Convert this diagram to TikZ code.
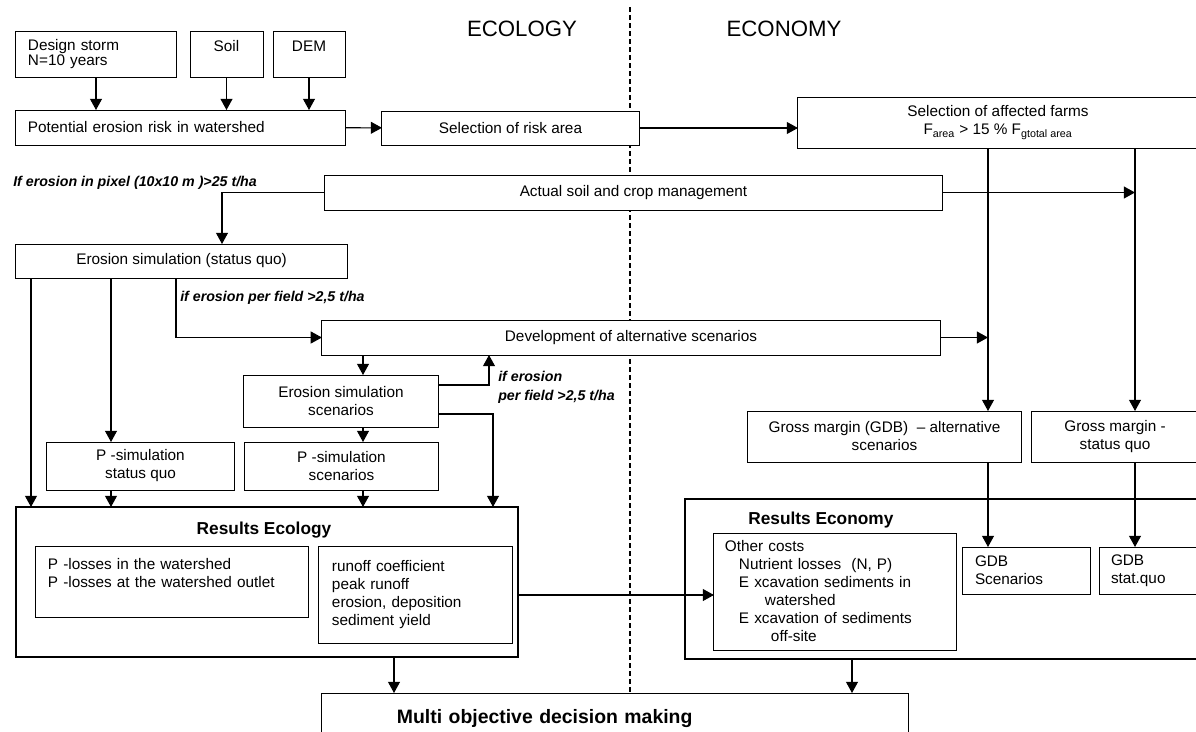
\documentclass[tikz,border=0pt]{standalone}
\usepackage{fontspec}
\setmainfont{Liberation Sans}
\usetikzlibrary{arrows.meta}

\begin{document}
\begin{tikzpicture}[x=0.025cm, y=-0.025cm,
        box/.style={draw, fill=white, line width=0.7pt, inner sep=0pt, outer sep=0pt, align=center, font=\fontsize{10.9}{12.8}\selectfont},
        lbox/.style={box, align=left},
        inbox/.style={box, minimum height=1.15cm, font=\fontsize{10.9}{11.2}\selectfont},
        resbox/.style={draw, line width=2pt, inner sep=0pt, outer sep=0pt},
        cond/.style={anchor=west, align=left, inner sep=0pt, font=\fontsize{10.1}{13.2}\selectfont\bfseries\itshape},
        title/.style={inner sep=0pt, font=\fontsize{12.3}{14}\selectfont\bfseries},
        side/.style={inner sep=0pt, font=\fontsize{15.8}{18}\selectfont},
        arr/.style={-{Triangle[length=0.28cm, width=0.3cm]}, line width=0.75pt}]

    % page = the scheme, boxes at the right border are cut
    \useasboundingbox (0,0) rectangle (1196,731);
    \clip (0,0) rectangle (1196,731);

    % columns and rows for the connectors
    \coordinate (xa) at (31,0);
    \coordinate (xb) at (111,0);
    \coordinate (xc) at (176,0);
    \coordinate (xd) at (222,0);
    \coordinate (xe) at (363,0);
    \coordinate (xf) at (394,0);
    \coordinate (xg) at (489,0);
    \coordinate (xh) at (493,0);
    \coordinate (xi) at (852,0);
    \coordinate (xj) at (988,0);
    \coordinate (xk) at (1135,0);
    \coordinate (ya) at (0,385);
    \coordinate (yb) at (0,414);
    \coordinate (yc) at (0,595);

    % dividing line ecology / economy
    \coordinate (divtop) at (630,7);
    \coordinate (divbot) at (630,693);
    \draw[dashed, dash pattern=on 0.125cm off 0.075cm, line width=0.9pt] (divtop) -- (divbot);

    \node[side] (ecol) at (522,29) {ECOLOGY};
    \node[side] (econ) at (784,29) {ECONOMY};

    % input data
    \node[inbox, align=left, text width=3.4cm, inner xsep=0.3cm] (storm) at (96,54) {Design storm\\N=10 years};
    \node[inbox, minimum width=1.825cm] (soil) at (226.5,54) {Soil\\~};
    \node[inbox, minimum width=1.8cm] (dem) at (309,54) {DEM\\~};

    \node[lbox, text width=7.625cm, inner xsep=0.3cm, minimum height=0.875cm] (potential) at (180.5,127.5) {Potential erosion risk in watershed};
    \node[box, minimum width=6.425cm, minimum height=0.85cm] (riskarea) at (510.5,128) {Selection of risk area};
    \node[box, minimum width=10cm, minimum height=1.275cm] (farms) at (998,122.5) {Selection of affected farms\\F\textsubscript{area} > 15 \% F\textsubscript{gtotal area}};
    \node[box, minimum width=15.425cm, minimum height=0.875cm] (actual) at (633.5,192.5) {Actual soil and crop management};

    % simulations
    \node[box, minimum width=8.275cm, minimum height=0.85cm] (esq) at (181.5,261) {Erosion simulation (status quo)};
    \node[box, minimum width=15.45cm, minimum height=0.875cm] (dev) at (631,337.5) {Development of alternative scenarios};
    \node[box, minimum width=4.85cm, minimum height=1.3cm] (ess) at (341,401) {Erosion simulation\\scenarios};
    \node[box, minimum width=4.675cm, minimum height=1.2cm] (psq) at (140.5,466) {P -simulation\\status quo};
    \node[box, minimum width=4.825cm, minimum height=1.2cm] (pss) at (341.5,466) {P -simulation\\scenarios};
    \node[box, minimum width=6.825cm, minimum height=1.275cm] (gmalt) at (884.5,436.5) {Gross margin (GDB) \ -- alternative\\scenarios};
    \node[box, minimum width=4.2cm, minimum height=1.275cm] (gmsq) at (1115,436.5) {Gross margin -\\status quo};

    % results
    \node[resbox, minimum width=12.55cm, minimum height=3.75cm] (reseco) at (267,582) {};
    \node[title] (ecotitle) at (264,530.5) {Results Ecology};
    \node[lbox, text width=6.2cm, inner xsep=0.3cm, minimum height=1.775cm] (ploss) at (172,581.5) {P -losses in the watershed\\P -losses at the watershed outlet\\~};
    \node[lbox, text width=4.175cm, inner xsep=0.325cm, minimum height=2.425cm] (runoff) at (415.5,594.5) {runoff coefficient\\peak runoff\\erosion, deposition\\sediment yield};

    \node[resbox, minimum width=13.125cm, minimum height=4cm] (reseconomy) at (947.5,579) {};
    \node[title, anchor=west] (econtitle) at (748,520.5) {Results Economy};
    \node[lbox, text width=5.5cm, inner xsep=0.275cm, minimum height=2.925cm] (costs) at (835,591.5) {Other costs\\\hspace*{0.35cm}Nutrient losses \ (N, P)\\\hspace*{0.35cm}E xcavation sediments in\\\hspace*{1cm}watershed\\\hspace*{0.35cm}E xcavation of sediments\\\hspace*{1.15cm}off-site};
    \node[lbox, text width=2.55cm, inner xsep=0.325cm, minimum height=1.175cm] (gdbsc) at (1026,570.5) {GDB\\Scenarios};
    \node[lbox, text width=1.9cm, inner xsep=0.3cm, minimum height=1.175cm] (gdbsq) at (1149,570.5) {GDB\\stat.quo};

    \node[lbox, text width=10.9cm, inner xsep=1.875cm, minimum height=1.3cm, font=\fontsize{13.8}{16}\selectfont\bfseries] (multi) at (615,719) {Multi objective decision making};

    % conditions
    \node[cond] (ifpixel) at (13,183) {If erosion in pixel (10x10 m )>25 t/ha};
    \node[cond] (iffield) at (180,298) {if erosion per field >2,5 t/ha};
    \node[cond] (iffieldb) at (498,387.5) {if erosion\\per field >2,5 t/ha};

    % connectors
    \draw[arr] (storm) -- (storm |- potential.north);
    \draw[arr] (soil) -- (soil |- potential.north);
    \draw[arr] (dem) -- (dem |- potential.north);
    \draw[arr] (potential) -- (riskarea);
    \draw[arr] (riskarea) -- (riskarea -| farms.west);
    \draw[arr] (farms.south -| xj) -- (gmalt.north -| xj);
    \draw[arr] (farms.south -| xk) -- (gmsq.north -| xk);
    \draw[arr] (actual) -- (actual -| xk);
    \draw[arr] (actual.west) -| (esq.north -| xd);
    \draw[arr] (esq.south -| xa) -- (reseco.north -| xa);
    \draw[arr] (esq.south -| xb) -- (psq.north -| xb);
    \draw[arr] (esq.south -| xc) |- (dev.west);
    \draw[arr] (dev.south -| xe) -- (ess.north -| xe);
    \draw[arr] (ess.south -| xe) -- (pss.north -| xe);
    \draw[arr] (ess.east |- ya) -| (dev.south -| xg);
    \draw[arr] (ess.east |- yb) -| (reseco.north -| xh);
    \draw[arr] (psq.south -| xb) -- (reseco.north -| xb);
    \draw[arr] (pss.south -| xe) -- (reseco.north -| xe);
    \draw[arr] (dev) -- (dev -| xj);
    \draw[arr] (gmalt.south -| xj) -- (gdbsc.north -| xj);
    \draw[arr] (gmsq.south -| xk) -- (gdbsq.north -| xk);
    \draw[arr] (reseco.east |- yc) -- (costs.west |- yc);
    \draw[arr] (reseco.south -| xf) -- (multi.north -| xf);
    \draw[arr] (reseconomy.south -| xi) -- (multi.north -| xi);
\end{tikzpicture}
\end{document}
